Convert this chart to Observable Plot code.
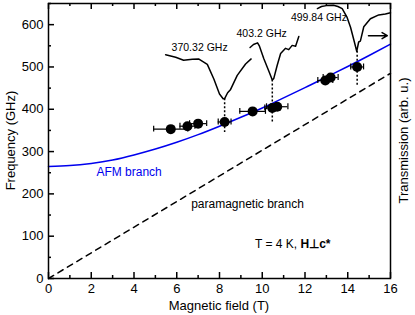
<!DOCTYPE html>
<html><head><meta charset="utf-8">
<script src="https://cdn.jsdelivr.net/npm/d3@7"></script>
<script src="https://cdn.jsdelivr.net/npm/@observablehq/plot@0.6"></script>
<style>
body{margin:0;background:#fff;font-family:"Liberation Sans",Arial,sans-serif;}
#chart{position:relative;width:415px;height:315px;}
.vlab{position:absolute;top:3px;width:22px;height:275px;display:flex;align-items:center;justify-content:center;}
.vlab span{transform:rotate(-90deg);white-space:nowrap;font-size:13px;color:#000;}
#xlabel{position:absolute;left:48px;width:342px;top:298px;text-align:center;font-size:13px;line-height:15px;color:#000;}
svg{position:absolute;left:0;top:0;}
</style></head><body>
<div id="chart">
<div class="vlab" style="left:0px"><span>Frequency (GHz)</span></div>
<div class="vlab" style="left:393px"><span>Transmission (arb. u.)</span></div>
<div id="xlabel">Magnetic field (T)</div>
</div>
<script>
// AFM branch curve, read at B = 0..16 T
const afmField = [0,1,2,3,4,5,6,7,8,9,10,11,12,13,14,15,16];
const afmFreq  = [265,267,272,280,292,306,322,340,360,381,403,427,451,476,501,527,554];
// paramagnetic branch
const paraField = [0,16];
const paraFreq  = [0,485];
// resonance points
const ptField = [5.72,6.5,7.0,8.24,9.55,10.47,10.7,12.95,13.2,14.44];
const ptFreq  = [353,360,366,370,395,403,406,468,475,500];
const ptErr   = [0.8,0.35,0.4,0.3,0.6,0.35,0.5,0.35,0.35,0.3];
// transmission spectra (drawn in frequency units, arb.)
const spec1B = [5.48,5.95,6.32,6.73,7.02,7.43,7.74,8.00,8.17,8.24,8.38,8.52,8.83,9.22,9.48];
const spec1Y = [529,523,516,518,519,506,471,436,425,425,439,447,480,507,519];
const spec2B = [9.43,9.59,9.78,9.87,10.07,10.31,10.47,10.54,10.70,10.86,11.09,11.24,11.40,11.56,11.71];
const spec2Y = [546,553,557,549,520,490,469,473,504,532,544,541,551,549,572];
const spec3B = [12.58,12.77,13.0,13.33,13.54,13.74,13.97,14.13,14.28,14.42,14.51,14.59,14.75,15.06,15.45,15.76,16.0];
const spec3Y = [638,643,645,646,643,638,617,594,565,537,559,561,595,614,623,625,628];
// dip markers (dotted verticals)
const dipB = [8.24,10.47,14.44];
const dipTop = [425,469,537];
const dipBot = [345,370,455];
// labels
const specLabels = ["370.32 GHz","403.2 GHz","499.84 GHz"];
const specLabelB = [7.07,9.97,12.65];
const specLabelY = [546,579,616];
// ticks
const xMaj = [0,2,4,6,8,10,12,14,16];
const xMin = [1,3,5,7,9,11,13,15];
const yMaj = [0,100,200,300,400,500,600];
const yMin = [50,150,250,350,450,550,650];

const afm = afmField.map((b,i)=>({b,f:afmFreq[i]}));
const para = paraField.map((b,i)=>({b,f:paraFreq[i]}));
const pts = ptField.map((b,i)=>({b,f:ptFreq[i],e:ptErr[i]}));
const s1 = spec1B.map((b,i)=>({b,f:spec1Y[i]}));
const s2 = spec2B.map((b,i)=>({b,f:spec2Y[i]}));
const s3 = spec3B.map((b,i)=>({b,f:spec3Y[i]}));
const dips = dipB.map((b,i)=>({b,y1:dipTop[i],y2:dipBot[i]}));
const labs = specLabels.map((t,i)=>({t,b:specLabelB[i],f:specLabelY[i]}));

const W=415,H=315,ML=48,MR=25,MT=3,MB=37;
const FW=W-ML-MR, FH=H-MT-MB;
const tk = {stroke:"#000",strokeWidth:1.5};

const plot = Plot.plot({
  width: W, height: H,
  marginLeft: ML, marginRight: MR, marginTop: MT, marginBottom: MB,
  style:{fontFamily:"Liberation Sans, Arial, sans-serif", fontSize:"13px", color:"#000", background:"transparent"},
  x:{domain:[0,16], label:null, ticks:xMaj, tickSize:0, tickPadding:5},
  y:{domain:[0,650], label:null, ticks:yMaj, tickSize:0, tickPadding:5},
  marks:[
    Plot.line(para,{x:"b",y:"f",stroke:"#000",strokeWidth:1.5,strokeDasharray:"6,5"}),
    Plot.line(afm,{x:"b",y:"f",stroke:"#0000ee",strokeWidth:1.5,curve:"natural"}),
    Plot.line(s1,{x:"b",y:"f",stroke:"#000",strokeWidth:1.5}),
    Plot.line(s2,{x:"b",y:"f",stroke:"#000",strokeWidth:1.5}),
    Plot.line(s3,{x:"b",y:"f",stroke:"#000",strokeWidth:1.5}),
    Plot.ruleX(dips,{x:"b",y1:"y1",y2:"y2",stroke:"#000",strokeWidth:1.5,strokeDasharray:"2,2"}),
    Plot.ruleY(pts,{y:"f",x1:d=>d.b-d.e,x2:d=>d.b+d.e,stroke:"#000",strokeWidth:1.2}),
    Plot.ruleX(pts,{x:d=>d.b-d.e,y1:d=>d.f-7,y2:d=>d.f+7,stroke:"#000",strokeWidth:1.2}),
    Plot.ruleX(pts,{x:d=>d.b+d.e,y1:d=>d.f-7,y2:d=>d.f+7,stroke:"#000",strokeWidth:1.2}),
    Plot.dot(pts,{x:"b",y:"f",r:5,fill:"#000",stroke:"none"}),
    Plot.text(labs,{x:"b",y:"f",text:"t",fontSize:10.5,fill:"#000"}),
    Plot.arrow([{x1:14.97,x2:15.85,y:574}],{x1:"x1",x2:"x2",y1:"y",y2:"y",stroke:"#000",strokeWidth:1.5,headLength:6}),
    Plot.text(["AFM branch"],{x:3.77,y:251,fill:"#0000ee",fontSize:12}),
    Plot.text(["paramagnetic branch"],{x:9.31,y:175,fill:"#000",fontSize:12}),
    Plot.text(["T = 4 K, "],{x:11.79,y:81,textAnchor:"end",fontSize:12,fill:"#000"}),
    Plot.text(["H⊥c*"],{x:11.79,y:81,textAnchor:"start",fontSize:12,fontWeight:"bold",fill:"#000"}),
    Plot.frame({stroke:"#000",strokeWidth:1.5}),
    // inward ticks (bottom/top, left)
    Plot.tickX(xMaj,{x:d=>d,...tk,insetTop:FH-6}),
    Plot.tickX(xMin,{x:d=>d,...tk,insetTop:FH-3}),
    Plot.tickX(xMaj,{x:d=>d,...tk,insetBottom:FH-6}),
    Plot.tickX(xMin,{x:d=>d,...tk,insetBottom:FH-3}),
    Plot.tickY(yMaj,{y:d=>d,...tk,insetRight:FW-6}),
    Plot.tickY(yMin,{y:d=>d,...tk,insetRight:FW-3})
  ]
});
document.getElementById("chart").appendChild(plot);
</script>
</body></html>
